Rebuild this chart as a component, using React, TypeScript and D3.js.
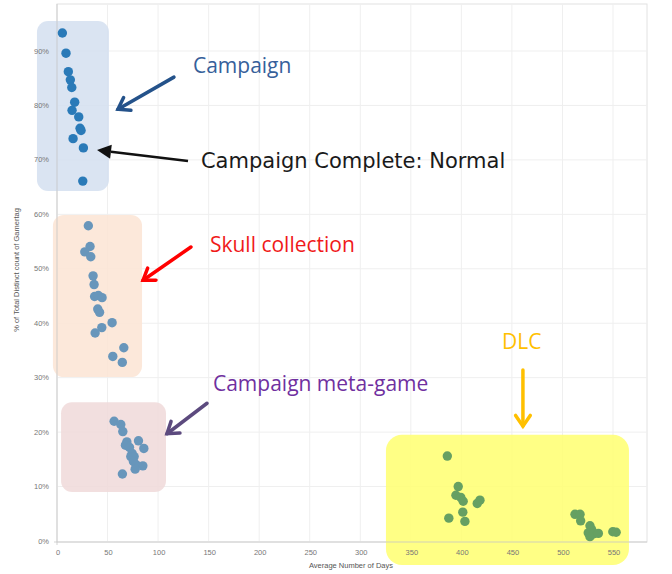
import { useEffect, useRef } from 'react';
import * as d3 from 'd3';

// Campaign (blue), skull collection, meta-game and DLC groups
const campaignDays = [5.3, 8.9, 11.2, 13.2, 14.6, 17.5, 14.9, 21.5, 22.8, 23.8, 15.9, 26.1, 25.5];
const campaignPct = [93.3, 89.6, 86.2, 84.7, 83.3, 80.6, 79.1, 77.9, 75.8, 75.4, 73.9, 72.2, 66.1];

const skullDays = [31.0, 32.7, 27.5, 33.4, 35.7, 36.7, 37.2, 40.9, 44.6, 40.3, 42.1, 54.5, 44.3, 37.7, 66.1, 55.2, 64.6];
const skullPct = [57.9, 54.1, 53.1, 52.2, 48.7, 47.1, 44.9, 45.1, 44.7, 42.6, 42.0, 40.1, 39.2, 38.2, 35.5, 33.9, 32.8];

const metaDays = [56.5, 63.1, 65.1, 69.1, 80.6, 67.7, 71.7, 74.3, 85.9, 73.0, 76.3, 75.6, 78.3, 84.9, 77.3, 64.7];
const metaPct = [22.0, 21.4, 20.1, 18.2, 18.4, 17.6, 17.2, 16.1, 17.0, 15.5, 15.5, 14.6, 14.0, 13.8, 13.2, 12.3];

const dlcDays = [386.1, 396.9, 394.6, 399.4, 401.8, 418.4, 415.7, 401.4, 387.6, 403.5, 512.4, 517.4, 518.0, 527.2, 528.9, 525.5, 530.5, 527.2, 535.5, 549.8, 553.1];
const dlcPct = [15.6, 10.0, 8.4, 8.0, 7.3, 7.5, 6.9, 5.3, 4.2, 3.6, 4.9, 4.9, 3.7, 2.8, 2.1, 1.5, 1.3, 0.8, 1.4, 1.7, 1.6];

const xTicks = [0, 50, 100, 150, 200, 250, 300, 350, 400, 450, 500, 550];
const yTicks = [0, 10, 20, 30, 40, 50, 60, 70, 80, 90];

// highlight boxes: [x0, x1, y0, y1] in days / percent
const boxNames = ['campaign', 'skull', 'meta', 'dlc'];
const boxExtents = [
  [-19.8, 51.4, 64.3, 95.5],
  [-4, 84.1, 30.1, 59.9],
  [4, 107.8, 9.0, 25.5],
  [325.4, 565.8, -4.4, 19.5],
];
const boxColors = ['#d3dff0', '#fce4d3', '#f0d9d9', '#ffff70'];

// annotation labels: text, anchor (days, percent)
const labelTexts = ['Campaign', 'Campaign Complete: Normal', 'Skull collection', 'Campaign meta-game', 'DLC'];
const labelDays = [134.5, 142.4, 151.3, 154.3, 440.2];
const labelPct = [86.0, 68.5, 53.1, 27.6, 35.3];
const labelColors = ['#36609a', '#1a1a1a', '#f01a1a', '#7030a0', '#ffc000'];

// arrows: tail -> tip (days, percent)
const arrowTail = [[115.7, 85.2], [129.6, 69.8], [132.5, 54.0], [148.4, 25.3], [460.9, 31.4]];
const arrowTip = [[60.3, 79.3], [39.6, 71.8], [85.1, 47.9], [108.8, 19.7], [460.9, 21.1]];
const arrowColors = ['#24528a', '#111111', '#ff0000', '#5c4a7e', '#ffc000'];

export default function App() {
  const svgRef = useRef<SVGSVGElement>(null);

  useEffect(() => {
    if (!svgRef.current) return;
    const svg = d3.select(svgRef.current);
    svg.selectAll('*').remove();

    const x = d3.scaleLinear().domain([0, 550]).range([57, 613]);
    const y = d3.scaleLinear().domain([0, 90]).range([541, 51]);
    const left = x(0), right = 647, top = 4, bottom = y(0) + 1;

    // plot frame + grid
    svg.append('rect')
      .attr('x', left).attr('y', top)
      .attr('width', right - left).attr('height', bottom - top)
      .attr('fill', 'white').attr('stroke', '#e2e2e2');

    const grid = svg.append('g').attr('stroke', '#efefef').attr('stroke-width', 1);
    xTicks.filter(t => t > 0).forEach(t => {
      grid.append('line').attr('x1', x(t)).attr('x2', x(t)).attr('y1', top).attr('y2', bottom);
    });
    yTicks.filter(t => t > 0).forEach(t => {
      grid.append('line').attr('x1', left).attr('x2', right).attr('y1', y(t)).attr('y2', y(t));
    });

    // highlight boxes
    svg.append('g').selectAll('rect').data(boxNames).enter().append('rect')
      .attr('x', (d, i) => x(boxExtents[i][0]))
      .attr('y', (d, i) => y(boxExtents[i][3]))
      .attr('width', (d, i) => x(boxExtents[i][1]) - x(boxExtents[i][0]))
      .attr('height', (d, i) => y(boxExtents[i][2]) - y(boxExtents[i][3]))
      .attr('rx', (d, i) => (i === 3 ? 16 : 11))
      .attr('fill', (d, i) => boxColors[i])
      .attr('fill-opacity', 0.85);

    // axis lines
    svg.append('line').attr('x1', left).attr('x2', left).attr('y1', top).attr('y2', bottom + 3)
      .attr('stroke', '#c8c8c8').attr('stroke-opacity', 0.8);
    svg.append('line').attr('x1', left - 3).attr('x2', right).attr('y1', bottom).attr('y2', bottom)
      .attr('stroke', '#c8c8c8').attr('stroke-opacity', 0.8);

    const tickFont = '"Liberation Sans", Arial, sans-serif';
    svg.append('g').selectAll('text').data(xTicks).enter().append('text')
      .attr('x', d => x(d) + 1).attr('y', 555)
      .attr('text-anchor', 'middle')
      .style('font-family', tickFont).style('font-size', '7.5px').style('fill', '#777')
      .text(d => d);

    svg.append('g').selectAll('text').data(yTicks).enter().append('text')
      .attr('x', 49).attr('y', d => y(d) + 2.5)
      .attr('text-anchor', 'end')
      .style('font-family', tickFont).style('font-size', '7.5px').style('fill', '#777')
      .text(d => `${d}%`);

    svg.append('text')
      .attr('transform', `translate(19, 270) rotate(-90)`)
      .attr('text-anchor', 'middle')
      .style('font-family', tickFont).style('font-size', '7.5px').style('fill', '#555')
      .text('% of Total Distinct count of Gamertag');

    svg.append('text')
      .attr('x', 351).attr('y', 568)
      .attr('text-anchor', 'middle')
      .style('font-family', tickFont).style('font-size', '7.5px').style('fill', '#555')
      .text('Average Number of Days');

    // points
    const groups = [
      { days: campaignDays, pct: campaignPct, color: '#2a7ab8' },
      { days: skullDays, pct: skullPct, color: '#6896bb' },
      { days: metaDays, pct: metaPct, color: '#6896bb' },
      { days: dlcDays, pct: dlcPct, color: '#66a062' },
    ];
    groups.forEach(gr => {
      svg.append('g').selectAll('circle').data(gr.days).enter().append('circle')
        .attr('cx', (d) => x(d))
        .attr('cy', (d, i) => y(gr.pct[i]))
        .attr('r', 4.7)
        .attr('fill', gr.color);
    });

    // annotation labels
    svg.append('g').selectAll('text').data(labelTexts).enter().append('text')
      .attr('x', (d, i) => x(labelDays[i]))
      .attr('y', (d, i) => y(labelPct[i]))
      .style('font-family', (d, i) => (i === 1 ? '"DejaVu Sans", Verdana, sans-serif' : '"Open Sans", sans-serif'))
      .style('font-size', '21px')
      .style('fill', (d, i) => labelColors[i])
      .text(d => d);

    // arrows
    arrowTail.forEach((tail, i) => {
      const x1 = x(tail[0]), y1 = y(tail[1]);
      const x2 = x(arrowTip[i][0]), y2 = y(arrowTip[i][1]);
      const ang = Math.atan2(y2 - y1, x2 - x1);
      const c = arrowColors[i];
      if (i === 1) {
        // filled triangle head
        const len = 14, half = 7;
        const bx = x2 - len * Math.cos(ang), by = y2 - len * Math.sin(ang);
        svg.append('line').attr('x1', x1).attr('y1', y1).attr('x2', bx).attr('y2', by)
          .attr('stroke', c).attr('stroke-width', 2.5);
        const pts = [
          [x2, y2],
          [bx + half * Math.sin(ang), by - half * Math.cos(ang)],
          [bx - half * Math.sin(ang), by + half * Math.cos(ang)],
        ];
        svg.append('polygon').attr('points', pts.map(p => p.join(',')).join(' ')).attr('fill', c);
      } else {
        const len = 13, spread = 0.6;
        svg.append('line').attr('x1', x1).attr('y1', y1).attr('x2', x2).attr('y2', y2)
          .attr('stroke', c).attr('stroke-width', 3.5).attr('stroke-linecap', 'round');
        const arm = (s: number) => [x2 - len * Math.cos(ang + s), y2 - len * Math.sin(ang + s)];
        const a = arm(spread), b = arm(-spread);
        svg.append('polyline')
          .attr('points', `${a[0]},${a[1]} ${x2},${y2} ${b[0]},${b[1]}`)
          .attr('fill', 'none').attr('stroke', c).attr('stroke-width', 3.5)
          .attr('stroke-linecap', 'round').attr('stroke-linejoin', 'miter');
      }
    });
  }, []);

  return (
    <div style={{ position: 'absolute', left: 0, top: 0, width: 672, height: 574, background: 'white' }}>
      <svg ref={svgRef} width={672} height={574} style={{ display: 'block' }}></svg>
    </div>
  );
}
